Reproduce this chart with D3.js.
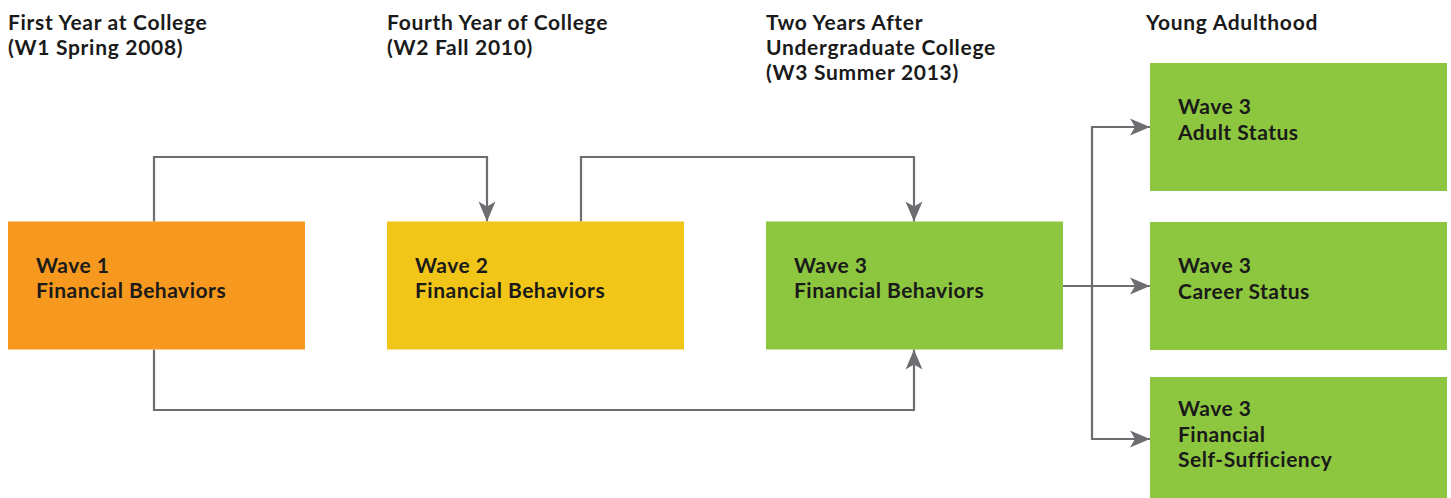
<!DOCTYPE html>
<html>
<head>
<meta charset="utf-8">
<script src="https://cdn.jsdelivr.net/npm/d3@7"></script>
<style>
  body { margin: 0; background: #fff; }
  text { font-family: Lato, "Noto Sans", sans-serif; font-weight: 700; fill: #1a1a1a; }
</style>
</head>
<body>
<script>
const width = 1451;
const height = 498;

// column headings (one per time point)
const headings = [
  ["First Year at College", "(W1 Spring 2008)"],
  ["Fourth Year of College", "(W2 Fall 2010)"],
  ["Two Years After", "Undergraduate College", "(W3 Summer 2013)"],
  ["Young Adulthood"],
];

// boxes: id, column, row, label lines, colour
const boxIds = ["w1", "w2", "w3", "adult", "career", "selfsuff"];
const boxCols = [0, 1, 2, 3, 3, 3];
const boxRows = ["main", "main", "main", "top", "mid", "bottom"];
const boxLabels = [
  ["Wave 1", "Financial Behaviors"],
  ["Wave 2", "Financial Behaviors"],
  ["Wave 3", "Financial Behaviors"],
  ["Wave 3", "Adult Status"],
  ["Wave 3", "Career Status"],
  ["Wave 3", "Financial", "Self-Sufficiency"],
];
const boxColors = ["#F7991E", "#F2C618", "#8DC63F", "#8DC63F", "#8DC63F", "#8DC63F"];

// links between boxes
const linkFrom = ["w1", "w2", "w1", "w3", "w3", "w3"];
const linkTo = ["w2", "w3", "w3", "adult", "career", "selfsuff"];
const linkKind = ["over", "over", "under", "fan", "fan", "fan"];

const svg = d3.select("body")
  .append("svg")
  .attr("width", width)
  .attr("height", height);

const x = d3.scaleLinear().domain([0, 3]).range([8, 1145]);
const boxW = 297;
const boxH = 128;
const y = d3.scaleOrdinal()
  .domain(["top", "main", "mid", "bottom"])
  .range([63, 221.5, 222, 377]);

const boxes = boxIds.map((id, i) => {
  const x0 = x(boxCols[i]) + (boxCols[i] === 3 ? 5 : 0);
  return { id, x0, y0: y(boxRows[i]), x1: x0 + boxW, y1: y(boxRows[i]) + boxH,
           lines: boxLabels[i], color: boxColors[i] };
});
const byId = Object.fromEntries(boxes.map((b) => [b.id, b]));

// where links leave / enter each box (offset from left edge)
const outOffset = { w1: 146, w2: 194 };
const inOffset = { w2: 100, w3: 148 };

svg.append("defs")
  .append("marker")
  .attr("id", "arrow")
  .attr("markerUnits", "userSpaceOnUse")
  .attr("viewBox", "-21 -10 22 20")
  .attr("refX", 0)
  .attr("refY", 0)
  .attr("markerWidth", 22)
  .attr("markerHeight", 20)
  .attr("orient", "auto")
  .append("path")
  .attr("d", "M0,0 L-20,-8.5 L-15,0 L-20,8.5 Z")
  .attr("fill", "#6D6E71");

// headings
svg.selectAll("text.head")
  .data(headings)
  .enter()
  .append("text")
  .attr("class", "head")
  .attr("x", (d, i) => x(i) + (i === 3 ? 1 : 0))
  .attr("y", 30)
  .style("font-size", "21px")
  .style("letter-spacing", "0.7px")
  .selectAll("tspan")
  .data((d) => d)
  .enter()
  .append("tspan")
  .attr("x", function () { return d3.select(this.parentNode).attr("x"); })
  .attr("dy", (d, i) => (i === 0 ? 0 : 25))
  .text((d) => d);

// links
const fanX = 1092;
const pathFor = (kind, a, b) => {
  const p = d3.path();
  if (kind === "over") {
    const sx = a.x0 + outOffset[a.id], tx = b.x0 + inOffset[b.id];
    p.moveTo(sx, a.y0);
    p.lineTo(sx, 157);
    p.lineTo(tx, 157);
    p.lineTo(tx, b.y0);
  } else if (kind === "under") {
    const sx = a.x0 + outOffset[a.id], tx = b.x0 + inOffset[b.id];
    p.moveTo(sx, a.y1);
    p.lineTo(sx, 410);
    p.lineTo(tx, 410);
    p.lineTo(tx, b.y1);
  } else {
    const ty = b.id === "career" ? 286 : (b.id === "adult" ? 127 : 439);
    if (b.id === "career") {
      p.moveTo(a.x1, ty);
    } else {
      p.moveTo(fanX, 286);
      p.lineTo(fanX, ty);
    }
    p.lineTo(b.x0, ty);
  }
  return p.toString();
};

svg.selectAll("path.link")
  .data(linkFrom.map((f, i) => ({ a: byId[f], b: byId[linkTo[i]], kind: linkKind[i] })))
  .enter()
  .append("path")
  .attr("class", "link")
  .attr("d", (d) => pathFor(d.kind, d.a, d.b))
  .attr("fill", "none")
  .attr("stroke", "#6D6E71")
  .attr("stroke-width", 2.2)
  .attr("marker-end", "url(#arrow)");

// boxes
const g = svg.selectAll("g.box")
  .data(boxes)
  .enter()
  .append("g")
  .attr("class", "box");

g.append("rect")
  .attr("x", (d) => d.x0)
  .attr("y", (d) => d.y0)
  .attr("width", boxW)
  .attr("height", (d) => Math.min(boxH, height - d.y0 + 10))
  .attr("fill", (d) => d.color);

g.append("text")
  .attr("x", (d) => d.x0 + 28)
  .attr("y", (d) => d.y0 + (d.lines.length === 3 ? 39 : 51))
  .style("font-size", "21px")
  .style("letter-spacing", "0.5px")
  .selectAll("tspan")
  .data((d) => d.lines.map((t) => ({ t, x: d.x0 + 28 })))
  .enter()
  .append("tspan")
  .attr("x", (d) => d.x)
  .attr("dy", (d, i) => (i === 0 ? 0 : 25.5))
  .text((d) => d.t);
</script>
</body>
</html>
